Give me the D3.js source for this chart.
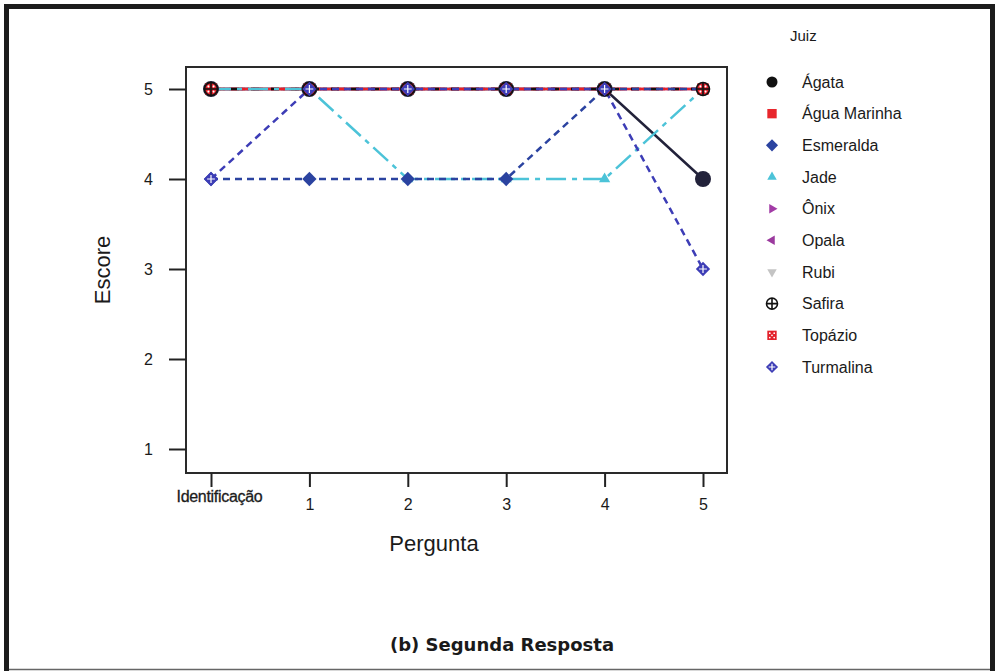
<!DOCTYPE html>
<html>
<head>
<meta charset="utf-8">
<script src="https://cdn.jsdelivr.net/npm/d3@7"></script>
<style>
  body { margin: 0; background: #fff; }
  svg text { font-family: "Liberation Sans", Arial, sans-serif; fill: #1a1a1a; }
</style>
</head>
<body>
<div id="chart"></div>
<script>
// categories and values
let perguntas = ["Identificação", "1", "2", "3", "4", "5"];
let juizes = ["Ágata", "Água Marinha", "Esmeralda", "Jade", "Ônix", "Opala", "Rubi", "Safira", "Topázio", "Turmalina"];

let agata       = [5, 5, 5, 5, 5, 4];
let aguaMarinha = [5, 5, 5, 5, 5, 5];
let esmeralda   = [4, 4, 4, 4, 5, 5];
let jade        = [5, 5, 4, 4, 4, 5];
let onix        = [5, 5, 5, 5, 5, 5];
let opala       = [5, 5, 5, 5, 5, 5];
let rubi        = [5, 5, 5, 5, 5, 5];
let safira      = [5, 5, 5, 5, 5, 5];
let topazio     = [5, 5, 5, 5, 5, 5];
let turmalina   = [4, 5, 5, 5, 5, 3];

let yTicks = [1, 2, 3, 4, 5];

let valores = [agata, aguaMarinha, esmeralda, jade, onix, opala, rubi, safira, topazio, turmalina];

// styles per judge (R-like pch / lty)
let cores = ["#22223a", "#e8262c", "#2b43a0", "#4cc3d8", "#a23ca6", "#9b3a9e", "#c4c4c4", "#111111", "#e3202a", "#3d3db6"];
let simbolos = ["circle", "square", "diamond", "triUp", "triRight", "triLeft", "triDown", "circlePlus", "squareDots", "diamondPlus"];
let tracos = ["none", "none", "7,5", "20,6,5,6", "2,4", "10,4", "4,4", "8,12", "14,6", "7,5"];

let width = 996, height = 671;
let margin = {top: 67, right: 269, bottom: 198, left: 186};

let svg = d3.select("#chart").append("svg")
  .attr("width", width)
  .attr("height", height);

// outer frame
svg.append("rect")
  .attr("x", 6.5).attr("y", 6.5)
  .attr("width", 986).attr("height", 680)
  .attr("fill", "none")
  .attr("stroke", "#1c1c1c")
  .attr("stroke-width", 5);
svg.append("line")
  .attr("x1", 9).attr("x2", 990).attr("y1", 669.5).attr("y2", 669.5)
  .attr("stroke", "#666").attr("stroke-width", 1.5);

let x = d3.scalePoint()
  .domain(perguntas)
  .range([211, 703]);

let y = d3.scaleLinear()
  .domain([1, 5])
  .range([449, 89]);

// plot box
svg.append("rect")
  .attr("x", margin.left).attr("y", margin.top)
  .attr("width", width - margin.left - margin.right)
  .attr("height", height - margin.top - margin.bottom)
  .attr("fill", "none")
  .attr("stroke", "#2a2a2a")
  .attr("stroke-width", 2);

// y axis
let yAxis = d3.axisLeft(y).tickValues(yTicks).tickFormat(d3.format("d"))
  .tickSize(17).tickPadding(16).tickSizeOuter(0);
let gy = svg.append("g")
  .attr("transform", `translate(${margin.left},0)`)
  .call(yAxis);
gy.select(".domain").remove();
gy.selectAll("line").attr("stroke", "#222").attr("stroke-width", 2);
gy.selectAll("text").attr("font-size", 16).attr("fill", "#222");

// x axis
let xAxis = d3.axisBottom(x).tickSize(14).tickPadding(12).tickSizeOuter(0);
let gx = svg.append("g")
  .attr("transform", `translate(0,${height - margin.bottom})`)
  .call(xAxis);
gx.select(".domain").remove();
gx.selectAll("line").attr("stroke", "#222").attr("stroke-width", 2);
gx.selectAll("text").attr("font-size", 16).attr("fill", "#222");
gx.selectAll("text").filter((d) => d === "Identificação")
  .attr("font-size", 16)
  .attr("letter-spacing", -0.3)
  .attr("stroke", "#222")
  .attr("stroke-width", 0.3)
  .attr("dx", 8)
  .attr("dy", "0.2em");

// axis titles
svg.append("text")
  .attr("transform", "translate(110,270) rotate(-90)")
  .attr("text-anchor", "middle")
  .attr("font-size", 22)
  .text("Escore");

svg.append("text")
  .attr("x", 434).attr("y", 551)
  .attr("text-anchor", "middle")
  .attr("font-size", 22)
  .text("Pergunta");

// lines
let line = d3.line()
  .x((d, i) => x(perguntas[i]))
  .y((d) => y(d));

let ordem = [4, 5, 6, 0, 1, 8, 7, 3, 2, 9];

ordem.forEach((k) => {
  svg.append("path")
    .datum(valores[k])
    .attr("d", line)
    .attr("fill", "none")
    .attr("stroke", cores[k])
    .attr("stroke-width", 2.5)
    .attr("stroke-dasharray", tracos[k] === "none" ? null : tracos[k]);
});

// symbol drawing
function desenhaSimbolo(g, tipo, cor, s) {
  let tri = (a) => {
    let pts = d3.range(3).map((i) => {
      let ang = a + i * 2 * Math.PI / 3;
      return [Math.cos(ang) * s, Math.sin(ang) * s];
    });
    return "M" + pts.map((p) => p.join(",")).join("L") + "Z";
  };
  switch (tipo) {
  case "circle":
    g.append("circle").attr("r", s).attr("fill", cor);
    break;
  case "square":
    g.append("rect").attr("x", -s * 0.85).attr("y", -s * 0.85)
      .attr("width", s * 1.7).attr("height", s * 1.7).attr("fill", cor);
    break;
  case "diamond":
    g.append("path").attr("d", `M0,${-s * 1.1}L${s * 1.1},0L0,${s * 1.1}L${-s * 1.1},0Z`).attr("fill", cor);
    break;
  case "triUp":
    g.append("path").attr("d", tri(-Math.PI / 2)).attr("fill", cor);
    break;
  case "triRight":
    g.append("path").attr("d", tri(0)).attr("fill", cor);
    break;
  case "triLeft":
    g.append("path").attr("d", tri(Math.PI)).attr("fill", cor);
    break;
  case "triDown":
    g.append("path").attr("d", tri(Math.PI / 2)).attr("fill", cor);
    break;
  case "circlePlus":
    g.append("circle").attr("r", s).attr("fill", "none").attr("stroke", cor).attr("stroke-width", 1.6);
    g.append("path").attr("d", `M${-s},0H${s}M0,${-s}V${s}`).attr("stroke", cor).attr("stroke-width", 1.6);
    break;
  case "squareDots":
    g.append("rect").attr("x", -s * 0.85).attr("y", -s * 0.85)
      .attr("width", s * 1.7).attr("height", s * 1.7).attr("fill", cor);
    [[-0.4, -0.4], [0.4, -0.4], [0, 0], [-0.4, 0.4], [0.4, 0.4]].forEach((p) => {
      g.append("circle").attr("cx", p[0] * s).attr("cy", p[1] * s).attr("r", s * 0.16).attr("fill", "#fff");
    });
    break;
  case "diamondPlus":
    g.append("path").attr("d", `M0,${-s * 1.1}L${s * 1.1},0L0,${s * 1.1}L${-s * 1.1},0Z`).attr("fill", cor);
    g.append("path").attr("d", `M${-s * 0.6},0H${s * 0.6}M0,${-s * 0.6}V${s * 0.6}`).attr("stroke", "#fff").attr("stroke-width", 1.2);
    break;
  }
}

// points, drawn so overlapping marks mix like the original
let ordemPontos = [4, 5, 6, 0, 3, 2, 1, 8, 7, 9];
ordemPontos.forEach((k) => {
  valores[k].forEach((v, i) => {
    let g = svg.append("g").attr("transform", `translate(${x(perguntas[i])},${y(v)})`);
    desenhaSimbolo(g, simbolos[k], cores[k], k === 0 ? 8 : 6.5);
  });
});

// legend
svg.append("text")
  .attr("x", 790).attr("y", 41)
  .attr("font-size", 15)
  .text("Juiz");

let yLeg = d3.scalePoint().domain(juizes).range([82, 367]);

juizes.forEach((nome, k) => {
  let g = svg.append("g").attr("transform", `translate(772,${yLeg(nome)})`);
  desenhaSimbolo(g, simbolos[k], k === 0 ? "#111" : cores[k], 5.5);
  svg.append("text")
    .attr("x", 802).attr("y", yLeg(nome))
    .attr("dy", "0.35em")
    .attr("font-size", 16)
    .text(nome);
});

// caption
svg.append("text")
  .attr("x", 502).attr("y", 651)
  .attr("text-anchor", "middle")
  .attr("font-size", 18)
  .attr("font-weight", "bold")
  .style("font-family", "'DejaVu Sans', sans-serif")
  .text("(b) Segunda Resposta");
</script>
</body>
</html>
